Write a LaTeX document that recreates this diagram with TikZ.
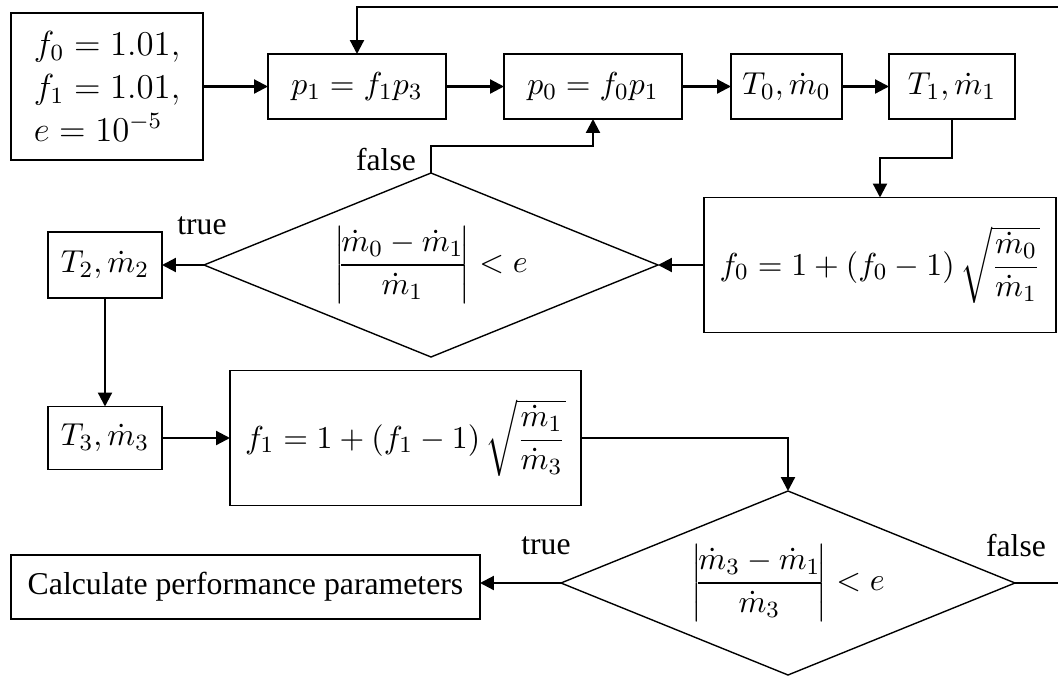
\documentclass[tikz,border=0pt]{standalone}
\usepackage{amsmath}
\usepackage[no-math]{fontspec}
\setmainfont{Liberation Serif}
\usetikzlibrary{arrows.meta}
\newcommand\px{0.3448pt}
\begin{document}
\begin{tikzpicture}[x=0.3448pt,y=-0.3448pt,
  every node/.style={font=\fontsize{10.95}{13}\selectfont},
  box/.style={draw,line width=0.62pt,inner sep=0pt,outer sep=0pt},
  dia/.style={inner sep=0pt,outer sep=0pt,minimum width=454*\px,minimum height=184*\px},
  dline/.style={line width=0.48pt,line join=miter},
  lbl/.style={inner sep=0pt,font=\fontsize{10.9}{12}\selectfont},
  arr/.style={line width=0.76pt,-{Triangle[length=4.8pt,width=4.8pt]}},
  ln/.style={line width=0.76pt}]
\useasboundingbox (0,0) rectangle (1058,677);
\clip (0,0) rectangle (1058,677);
% nodes
\node[box,minimum width=192*\px,minimum height=147*\px,align=left,font=\fontsize{12}{14.8}\selectfont] (init) at (107,86.5)
  {$f_0 = 1.01,$\\$f_1 = 1.01,$\\$e = 10^{-5}$};
\node[box,minimum width=178*\px,minimum height=65*\px] (p1) at (357,86.5) {$p_1 = f_1 p_3$};
\node[box,minimum width=178*\px,minimum height=65*\px] (p0) at (593,86.5) {$p_0 = f_0 p_1$};
\node[box,minimum width=111*\px,minimum height=65*\px] (T0) at (786.5,86.5) {$T_0, \dot m_0$};
\node[box,minimum width=126*\px,minimum height=65*\px] (T1) at (952,86.5) {$T_1, \dot m_1$};
\node[box,minimum width=352*\px,minimum height=135*\px] (f0b) at (880,265) {$f_0 = 1 + (f_0 - 1)\,\sqrt{\dfrac{\dot m_0}{\dot m_1}}$};
\node[dia] (d1) at (431,265) {$\left|\mkern-4mu\dfrac{\dot m_0 - \dot m_1}{\dot m_1}\mkern-4mu\right| < e$};
\draw[dline] (d1.north) -- (d1.east) -- (d1.south) -- (d1.west) -- cycle;
\node[box,minimum width=114*\px,minimum height=66*\px] (T2) at (105,265) {$T_2, \dot m_2$};
\node[box,minimum width=114*\px,minimum height=63*\px] (T3) at (105,438) {$T_3, \dot m_3$};
\node[box,minimum width=351*\px,minimum height=135*\px] (f1b) at (405.5,438) {$f_1 = 1 + (f_1 - 1)\,\sqrt{\dfrac{\dot m_1}{\dot m_3}}$};
\node[dia] (d2) at (788,583) {$\left|\mkern-4mu\dfrac{\dot m_3 - \dot m_1}{\dot m_3}\mkern-4mu\right| < e$};
\draw[dline] (d2.north) -- (d2.east) -- (d2.south) -- (d2.west) -- cycle;
\node[box,minimum width=469*\px,minimum height=64*\px] (calc) at (245.5,587) {Calculate performance parameters};
% labels
\node[lbl] (lf1) at (386,160) {false};
\node[lbl] (lt1) at (202,226) {true};
\node[lbl] (lt2) at (546,546) {true};
\node[lbl] (lf2) at (1016,546) {false};
% helper coordinates
\coordinate (k1) at (952,158);
\coordinate (k2) at (431,146);
\coordinate (k3) at (1070,583);
\coordinate (k4) at (1070,7);
% connectors
\draw[arr] (init.east) -- (p1.west);
\draw[arr] (p1.east) -- (p0.west);
\draw[arr] (p0.east) -- (T0.west);
\draw[arr] (T0.east) -- (T1.west);
\draw[arr] (T1.south) -- (k1) -| (f0b.north);
\draw[arr] (f0b.west) -- (d1.east);
\draw[arr] (d1.west) -- (T2.east);
\draw[arr] (d1.north) -- (k2) -| (p0.south);
\draw[arr] (T2.south) -- (T3.north);
\draw[arr] (T3.east) -- (f1b.west);
\draw[arr] (f1b.east) -| (d2.north);
\draw[arr] (d2.west) -- (d2.west -| calc.east);
\draw[arr] (d2.east) -- (k3) -- (k4) -| (p1.north);
\end{tikzpicture}
\end{document}
